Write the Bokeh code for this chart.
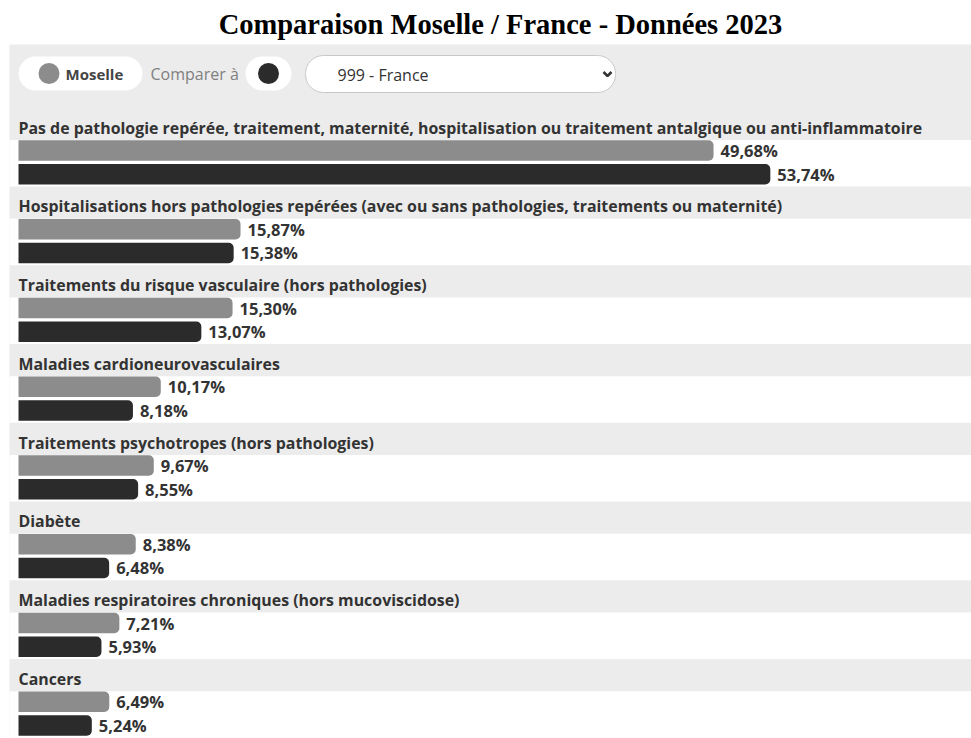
from bokeh.plotting import figure
from bokeh.models import Range1d, ColumnDataSource
from bokeh.core.properties import value
from bokeh.embed import file_html
from bokeh.resources import INLINE

# ---- data ----
categories = [
    "Pas de pathologie repérée, traitement, maternité, hospitalisation ou traitement antalgique ou anti-inflammatoire",
    "Hospitalisations hors pathologies repérées (avec ou sans pathologies, traitements ou maternité)",
    "Traitements du risque vasculaire (hors pathologies)",
    "Maladies cardioneurovasculaires",
    "Traitements psychotropes (hors pathologies)",
    "Diabète",
    "Maladies respiratoires chroniques (hors mucoviscidose)",
    "Cancers",
]
moselle = [49.68, 15.87, 15.30, 10.17, 9.67, 8.38, 7.21, 6.49]
france = [53.74, 15.38, 13.07, 8.18, 8.55, 6.48, 5.93, 5.24]
series_names = ["Moselle", "999 - France"]
title_text = "Comparaison Moselle / France - Données 2023"

# ---- layout / style ----
W, H = 971, 738
PX_PER_PCT = 13.99
ZERO_PX = 18
PERIOD = 78.75
ROW0_LABEL = 127.0
ROW0_BAR1 = 150.0
ROW0_BAR2 = 173.7
BAR_H = 20.5
C_MOS = "#8c8c8c"
C_FR = "#2b2b2b"
C_BG = "#ececec"
C_TXT = "#333333"
FONT = "Open Sans"

p = figure(width=W, height=H, output_backend="svg", toolbar_location=None,
           x_range=Range1d(-ZERO_PX / PX_PER_PCT, (W - ZERO_PX) / PX_PER_PCT),
           y_range=Range1d(H, 0), min_border=0)
p.extra_x_ranges = {"px": Range1d(0, W)}
p.axis.visible = False
p.xgrid.visible = False
p.ygrid.visible = False
p.outline_line_color = None
p.background_fill_color = "white"
p.border_fill_color = "white"

n = len(categories)
label_y = [ROW0_LABEL + i * PERIOD for i in range(n)]
y1 = [ROW0_BAR1 + i * PERIOD for i in range(n)]
y2 = [ROW0_BAR2 + i * PERIOD for i in range(n)]

# panel background
p.quad(left=[9], right=[W], top=[44], bottom=[H], fill_color=C_BG, line_color=None, x_range_name="px")
# white bar areas
p.quad(left=[9] * n, right=[W] * n,
       top=[y - 10.5 for y in y1], bottom=[y + 12.3 for y in y2],
       fill_color="white", line_color=None, x_range_name="px")

# title
p.text(x=[500], y=[24], text=[title_text], text_font=value("Liberation Serif"),
       text_font_style="bold", text_font_size="28.5px", text_color="black",
       text_align="center", text_baseline="middle", x_range_name="px")

# header legend
p.quad(left=[18], right=[142], top=[56], bottom=[90], fill_color="white", line_color=None,
       border_radius=17, x_range_name="px")
p.quad(left=[245], right=[291], top=[56], bottom=[90], fill_color="white", line_color=None,
       border_radius=17, x_range_name="px")
p.quad(left=[305], right=[615], top=[55], bottom=[92], fill_color="white", line_color="#c8c8c8",
       line_width=1, border_radius=18, x_range_name="px")
p.scatter(x=[48.5], y=[73], size=21, fill_color=C_MOS, line_color=None, x_range_name="px")
p.scatter(x=[268], y=[73], size=21, fill_color=C_FR, line_color=None, x_range_name="px")
p.text(x=[65], y=[73], text=[series_names[0]], text_font=value(FONT), text_font_style="bold",
       text_font_size="15px", text_color="#444444", text_baseline="middle", x_range_name="px")
p.text(x=[150], y=[73], text=["Comparer à"], text_font=value(FONT),
       text_font_size="16px", text_color="#808080", text_baseline="middle", x_range_name="px")
p.text(x=[337], y=[74], text=[series_names[1]], text_font=value(FONT),
       text_font_size="16px", text_color=C_TXT, text_baseline="middle", x_range_name="px")
p.line(x=[603, 607, 611], y=[71.5, 75.5, 71.5], line_color=C_TXT, line_width=2.5, x_range_name="px")

# category labels
p.text(x=[ZERO_PX] * n, y=label_y, text=categories, text_font=value(FONT), text_font_style="bold",
       text_font_size="15.9px", text_color=C_TXT, text_baseline="middle", x_range_name="px")

# bars
src = ColumnDataSource(dict(
    y1=y1, y2=y2, mos=moselle, fr=france,
    mos_lbl=[f"{v:.2f}".replace(".", ",") + "%" for v in moselle],
    fr_lbl=[f"{v:.2f}".replace(".", ",") + "%" for v in france],
))
p.hbar(y="y1", left=0, right="mos", height=BAR_H, source=src, fill_color=C_MOS, line_color=None,
       border_radius=(0, 5, 5, 0))
p.hbar(y="y2", left=0, right="fr", height=BAR_H, source=src, fill_color=C_FR, line_color=None,
       border_radius=(0, 5, 5, 0))
p.text(x="mos", y="y1", text="mos_lbl", source=src, x_offset=7, text_font=value(FONT),
       text_font_style="bold", text_font_size="16.5px", text_color=C_TXT, text_baseline="middle")
p.text(x="fr", y="y2", text="fr_lbl", source=src, x_offset=7, text_font=value(FONT),
       text_font_style="bold", text_font_size="16.5px", text_color=C_TXT, text_baseline="middle")

open("out.html", "w").write(file_html(p, INLINE))
